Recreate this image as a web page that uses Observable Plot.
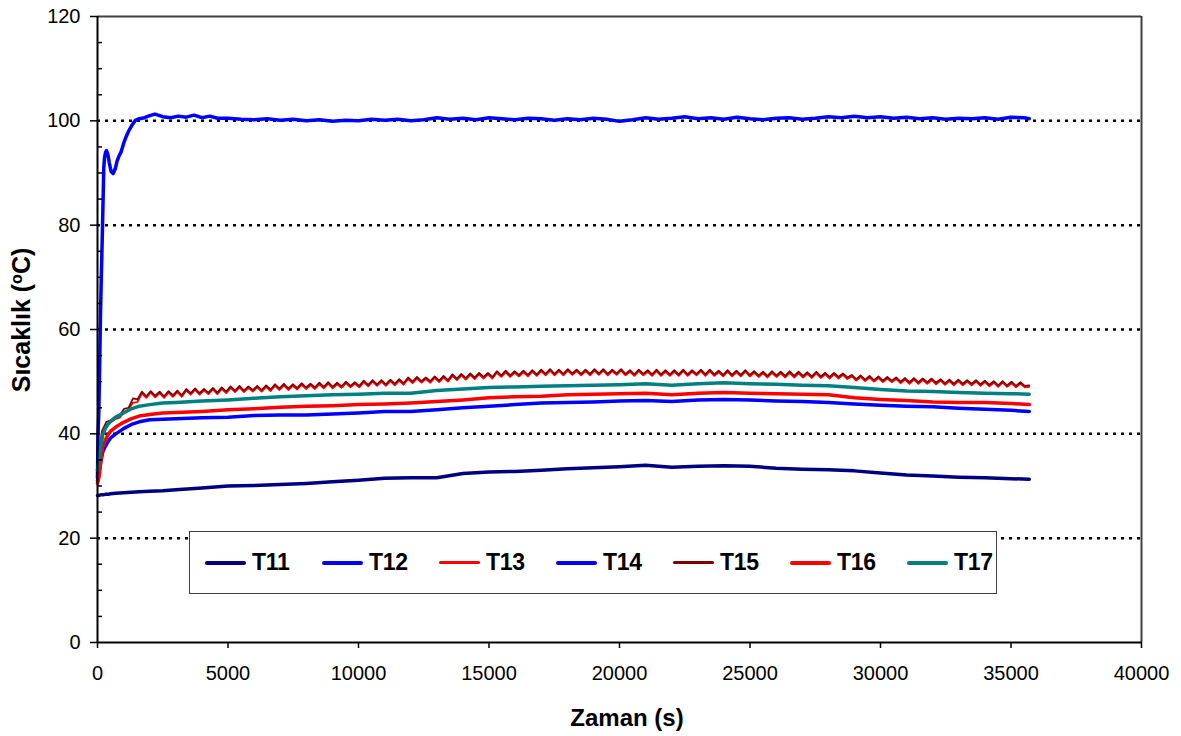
<!DOCTYPE html>
<html>
<head>
<meta charset="utf-8">
<script src="https://cdn.jsdelivr.net/npm/d3@7"></script>
<script src="https://cdn.jsdelivr.net/npm/@observablehq/plot@0.6"></script>
<style>
  html, body { margin: 0; padding: 0; background: #fff; }
  #wrap { position: relative; width: 1181px; height: 736px; font-family: "Liberation Sans", Arial, sans-serif; }
  #legend { position: absolute; left: 189px; top: 531px; width: 808px; height: 63px; border: 1px solid #404040; background: #fff; display: flex; align-items: center; padding-left: 15px; box-sizing: border-box; }
  .item { display: flex; align-items: center; width: 117px; flex: none; }
  .swatch { width: 41px; flex: none; margin-right: 6px; border-radius: 2px; }
  .lab { font-weight: bold; font-size: 23px; color: #000; letter-spacing: -0.3px; }
</style>
</head>
<body>
<div id="wrap"></div>
<script>
// ---- data ----
const seriesNames = ["T11", "T12", "T13", "T14", "T15", "T16", "T17"];
const seriesColors = ["#000080", "#0000FF", "#FF0000", "#0000FF", "#800000", "#FF0000", "#008080"];
const seriesWidths = [3.5, 3.5, 1.75, 3.5, 1.75, 3.5, 3.5];

const xTicks = [0, 5000, 10000, 15000, 20000, 25000, 30000, 35000, 40000];
const yTicks = [0, 20, 40, 60, 80, 100, 120];
const yMinorTicks = [5, 10, 15, 25, 30, 35, 45, 50, 55, 65, 70, 75, 85, 90, 95, 105, 110, 115];
const yGrid = [20, 40, 60, 80, 100];

// time grid (s) for the smooth series
const tCoarse = [0, 60, 120, 200, 300, 400, 500, 700, 1000, 1300, 1600, 2000, 2500, 3000, 4000, 5000,
  6000, 7000, 8000, 9000, 10000, 11000, 12000, 13000, 14000, 15000, 16000, 17000, 18000, 19000, 20000,
  21000, 22000, 23000, 24000, 25000, 26000, 27000, 28000, 29000, 30000, 31000, 32000, 33000, 34000, 35000, 35700];

const T11 = [28.2, 28.2, 28.3, 28.3, 28.4, 28.4, 28.5, 28.6, 28.7, 28.8, 28.9, 29.0, 29.1, 29.3, 29.6, 30.0,
  30.1, 30.3, 30.5, 30.8, 31.1, 31.5, 31.6, 31.6, 32.4, 32.7, 32.8, 33.0, 33.3, 33.5, 33.7,
  34.0, 33.6, 33.8, 33.9, 33.8, 33.4, 33.2, 33.1, 32.9, 32.5, 32.1, 31.9, 31.7, 31.6, 31.4, 31.3];

const T14 = [31.0, 32.5, 34.5, 36.5, 37.6, 38.5, 39.2, 40.0, 41.0, 41.8, 42.3, 42.7, 42.8, 42.9, 43.1, 43.2,
  43.5, 43.6, 43.6, 43.8, 44.0, 44.3, 44.3, 44.6, 45.0, 45.3, 45.6, 45.9, 46.0, 46.1, 46.3,
  46.4, 46.2, 46.5, 46.6, 46.5, 46.3, 46.2, 46.0, 45.7, 45.5, 45.3, 45.2, 44.9, 44.7, 44.5, 44.3];

const T16 = [30.5, 31.8, 34.5, 37.5, 38.8, 39.8, 40.5, 41.3, 42.2, 42.9, 43.4, 43.7, 44.0, 44.1, 44.3, 44.6,
  44.8, 45.1, 45.3, 45.4, 45.6, 45.7, 45.9, 46.2, 46.5, 46.9, 47.1, 47.2, 47.5, 47.6, 47.7,
  47.8, 47.5, 47.8, 47.9, 47.8, 47.7, 47.6, 47.5, 46.9, 46.6, 46.4, 46.1, 46.0, 46.0, 45.8, 45.6];

const T17 = [33.0, 35.0, 37.5, 39.8, 41.0, 41.8, 42.4, 43.2, 44.0, 44.8, 45.3, 45.6, 45.9, 46.0, 46.3, 46.5,
  46.8, 47.1, 47.3, 47.5, 47.6, 47.8, 47.8, 48.3, 48.6, 48.9, 49.0, 49.1, 49.2, 49.3, 49.4,
  49.6, 49.3, 49.6, 49.8, 49.6, 49.5, 49.3, 49.2, 48.9, 48.5, 48.2, 48.1, 47.9, 47.8, 47.7, 47.6];

// heater-side series (T12)
const tT12 = [0, 20, 50, 80, 115, 150, 180, 210, 240, 270, 310, 345, 400, 450, 520, 600, 680, 750, 820, 900,
  1010, 1100, 1200, 1300, 1450, 1600, 1800, 2000, 2200, 2500, 2800, 3100, 3400, 3700, 4000, 4300, 4600,
  5000, 5500, 6000, 6500, 7000, 7500, 8000, 8500, 9000, 9500, 10000, 10500, 11000, 11500, 12000, 12500,
  13000, 13500, 14000, 14500, 15000, 15500, 16000, 16500, 17000, 17500, 18000, 18500, 19000, 19500,
  20000, 20500, 21000, 21500, 22000, 22500, 23000, 23500, 24000, 24500, 25000, 25500, 26000, 26500,
  27000, 27500, 28000, 28500, 29000, 29500, 30000, 30500, 31000, 31500, 32000, 32500, 33000, 33500,
  34000, 34500, 35000, 35500, 35700];
const T12 = [31.5, 40, 44, 52, 63, 71, 77, 84, 91, 93, 94, 94.3, 93.5, 92, 90.3, 89.9, 90.8, 92.3, 93.2, 94,
  95.8, 97, 98.1, 99, 100.1, 100.4, 100.6, 101.0, 101.3, 100.8, 100.6, 100.9, 100.7, 101.1, 100.6, 100.9, 100.5,
  100.5, 100.3, 100.2, 100.4, 100.1, 100.3, 100.0, 100.2, 99.9, 100.1, 100.0, 100.3, 100.1, 100.3, 100.0, 100.2,
  100.6, 100.3, 100.5, 100.2, 100.6, 100.4, 100.2, 100.5, 100.4, 100.1, 100.4, 100.2, 100.5, 100.3,
  99.9, 100.2, 100.6, 100.3, 100.5, 100.8, 100.4, 100.6, 100.3, 100.7, 100.4, 100.2, 100.5, 100.6,
  100.3, 100.5, 100.8, 100.6, 100.9, 100.6, 100.8, 100.5, 100.7, 100.4, 100.6, 100.3, 100.5, 100.4,
  100.6, 100.3, 100.7, 100.6, 100.4];

// logger interval (s) of the oscillating series T13 / T15
const fineStep = 170;
const T15 = [
  34.5, 40.5, 42.3, 42.6, 43.3, 43.5, 44.8, 45.0, 46.8, 46.6,
  48.1, 47.2, 48.2, 47.3, 48.1, 47.2, 48.2, 47.4, 48.3, 47.4,
  48.6, 47.8, 48.7, 47.8, 48.6, 47.9, 48.8, 47.9, 48.9, 48.1,
  49.1, 48.3, 49.2, 48.3, 49.1, 48.4, 49.2, 48.4, 49.3, 48.5,
  49.5, 48.7, 49.6, 48.7, 49.5, 48.8, 49.7, 48.9, 49.6, 48.9,
  49.8, 49.0, 49.9, 49.0, 49.8, 49.1, 50.0, 49.2, 49.9, 49.2,
  50.2, 49.4, 50.3, 49.5, 50.3, 49.5, 50.4, 49.6, 50.5, 49.7,
  50.8, 50.0, 50.9, 50.1, 50.8, 50.1, 51.0, 50.2, 51.1, 50.3,
  51.4, 50.6, 51.5, 50.7, 51.6, 50.8, 51.7, 50.9, 51.7, 50.9,
  52.0, 51.2, 52.1, 51.2, 52.0, 51.3, 52.1, 51.3, 52.2, 51.4,
  52.3, 51.5, 52.4, 51.5, 52.3, 51.5, 52.4, 51.6, 52.3, 51.5,
  52.3, 51.5, 52.4, 51.6, 52.4, 51.5, 52.3, 51.6, 52.4, 51.5,
  52.2, 51.4, 52.3, 51.5, 52.2, 51.4, 52.3, 51.4, 52.2, 51.4,
  52.2, 51.4, 52.3, 51.4, 52.2, 51.5, 52.3, 51.4, 52.3, 51.4,
  52.1, 51.3, 52.2, 51.3, 52.1, 51.3, 52.2, 51.3, 52.0, 51.2,
  51.9, 51.1, 52.0, 51.2, 51.9, 51.1, 52.0, 51.1, 51.9, 51.1,
  51.8, 51.0, 51.9, 51.0, 51.7, 50.9, 51.7, 50.9, 51.6, 50.8,
  51.3, 50.5, 51.2, 50.4, 51.1, 50.3, 51.0, 50.2, 50.9, 50.2,
  50.8, 50.0, 50.7, 49.9, 50.7, 49.9, 50.6, 49.9, 50.6, 49.8,
  50.5, 49.7, 50.4, 49.6, 50.4, 49.6, 50.3, 49.6, 50.3, 49.5,
  50.2, 49.4, 50.1, 49.3, 50.1, 49.3, 50.0, 49.2, 49.9, 49.2,
  49.3];
const T13 = [
  33.0, 39.0, 41.6, 42.2, 42.8, 43.1, 44.2, 44.6, 46.0, 46.1,
  47.7, 46.9, 47.9, 47.0, 47.8, 46.9, 47.9, 47.1, 48.0, 47.1,
  48.3, 47.5, 48.4, 47.5, 48.3, 47.6, 48.5, 47.6, 48.6, 47.8,
  48.8, 48.0, 48.9, 48.0, 48.8, 48.1, 48.9, 48.1, 49.0, 48.2,
  49.2, 48.4, 49.3, 48.4, 49.2, 48.5, 49.4, 48.6, 49.3, 48.6,
  49.5, 48.7, 49.6, 48.7, 49.5, 48.8, 49.7, 48.9, 49.6, 48.9,
  49.9, 49.1, 50.0, 49.2, 50.0, 49.2, 50.1, 49.3, 50.2, 49.4,
  50.5, 49.7, 50.6, 49.8, 50.5, 49.8, 50.7, 49.9, 50.8, 50.0,
  51.1, 50.3, 51.2, 50.4, 51.3, 50.5, 51.4, 50.6, 51.4, 50.6,
  51.7, 50.9, 51.8, 50.9, 51.7, 51.0, 51.8, 51.0, 51.9, 51.1,
  52.0, 51.2, 52.1, 51.2, 52.0, 51.2, 52.1, 51.3, 52.0, 51.2,
  52.0, 51.2, 52.1, 51.3, 52.1, 51.2, 52.0, 51.3, 52.1, 51.2,
  51.9, 51.1, 52.0, 51.2, 51.9, 51.1, 52.0, 51.1, 51.9, 51.1,
  51.9, 51.1, 52.0, 51.1, 51.9, 51.2, 52.0, 51.1, 52.0, 51.1,
  51.8, 51.0, 51.9, 51.0, 51.8, 51.0, 51.9, 51.0, 51.7, 50.9,
  51.6, 50.8, 51.7, 50.9, 51.6, 50.8, 51.7, 50.8, 51.6, 50.8,
  51.5, 50.7, 51.6, 50.7, 51.4, 50.6, 51.4, 50.6, 51.3, 50.5,
  51.0, 50.2, 50.9, 50.1, 50.8, 50.0, 50.7, 49.9, 50.6, 49.9,
  50.5, 49.7, 50.4, 49.6, 50.4, 49.6, 50.3, 49.6, 50.3, 49.5,
  50.2, 49.4, 50.1, 49.3, 50.1, 49.3, 50.0, 49.3, 50.0, 49.2,
  49.9, 49.1, 49.8, 49.0, 49.8, 49.0, 49.7, 48.9, 49.6, 48.9,
  49.0];

// ---- build tables ----
const pairs = (ts, vs, name) => vs.map((v, i) => ({t: ts[i], v, name}));
const fineTimes = T15.map((_, i) => i * fineStep);
const seriesData = {
  T11: pairs(tCoarse, T11, "T11"),
  T12: pairs(tT12, T12, "T12"),
  T13: pairs(fineTimes, T13, "T13"),
  T14: pairs(tCoarse, T14, "T14"),
  T15: pairs(fineTimes, T15, "T15"),
  T16: pairs(tCoarse, T16, "T16"),
  T17: pairs(tCoarse, T17, "T17")
};

const lineMarks = seriesNames.map((n, i) =>
  Plot.line(seriesData[n], {x: "t", y: "v", stroke: seriesColors[i], strokeWidth: seriesWidths[i],
    strokeLinejoin: "round", strokeLinecap: "round"}));

const chart = Plot.plot({
  width: 1181,
  height: 736,
  marginLeft: 97,
  marginRight: 40,
  marginTop: 16,
  marginBottom: 94,
  style: {fontFamily: "'Liberation Sans', Arial, sans-serif", fontSize: "20px", color: "#000", background: "#fff", overflow: "visible"},
  x: {domain: [0, 40000], label: null},
  y: {domain: [0, 120], label: null},
  marks: [
    Plot.ruleY(yGrid, {stroke: "#000", strokeWidth: 2.5, strokeDasharray: "3,5"}),
    Plot.ruleY([120], {stroke: "#404040", strokeWidth: 2}),
    Plot.ruleX([40000], {stroke: "#404040", strokeWidth: 2}),
    ...lineMarks,
    Plot.ruleX([0], {stroke: "#000", strokeWidth: 2}),
    Plot.ruleY([0], {stroke: "#000", strokeWidth: 2}),
    Plot.axisX({ticks: xTicks, tickSize: 6, tickPadding: 17, tickFormat: d => String(d), label: null, stroke: "#000", strokeWidth: 1.5}),
    Plot.axisY({ticks: yTicks, tickSize: 7, tickPadding: 10, tickFormat: d => String(d), label: null, stroke: "#000", strokeWidth: 1.5}),
    Plot.axisY({ticks: yMinorTicks, tickSize: 5, dx: 5, text: null, label: null, stroke: "#000", strokeWidth: 1.5})
  ]
});

const wrap = document.getElementById("wrap");
wrap.appendChild(chart);

// axis titles
const svg = d3.select(chart);
svg.append("text")
  .attr("x", 627).attr("y", 726)
  .attr("text-anchor", "middle")
  .attr("font-weight", "bold").attr("font-size", 24)
  .attr("fill", "#000")
  .text("Zaman (s)");
const yt = svg.append("text")
  .attr("transform", "translate(30,320) rotate(-90)")
  .attr("text-anchor", "middle")
  .attr("font-weight", "bold").attr("font-size", 25)
  .attr("fill", "#000");
yt.append("tspan").text("Sıcaklık (");
yt.append("tspan").attr("dy", -8).attr("font-size", 16).text("o");
yt.append("tspan").attr("dy", 8).text("C)");

// legend
const legend = document.createElement("div");
legend.id = "legend";
seriesNames.forEach((n, i) => {
  const it = document.createElement("div");
  it.className = "item";
  const sw = document.createElement("div");
  sw.className = "swatch";
  sw.style.background = seriesColors[i];
  sw.style.height = (seriesWidths[i] + 0.5) + "px";
  const lb = document.createElement("span");
  lb.className = "lab";
  lb.textContent = n;
  it.appendChild(sw); it.appendChild(lb);
  legend.appendChild(it);
});
wrap.appendChild(legend);
</script>
</body>
</html>
